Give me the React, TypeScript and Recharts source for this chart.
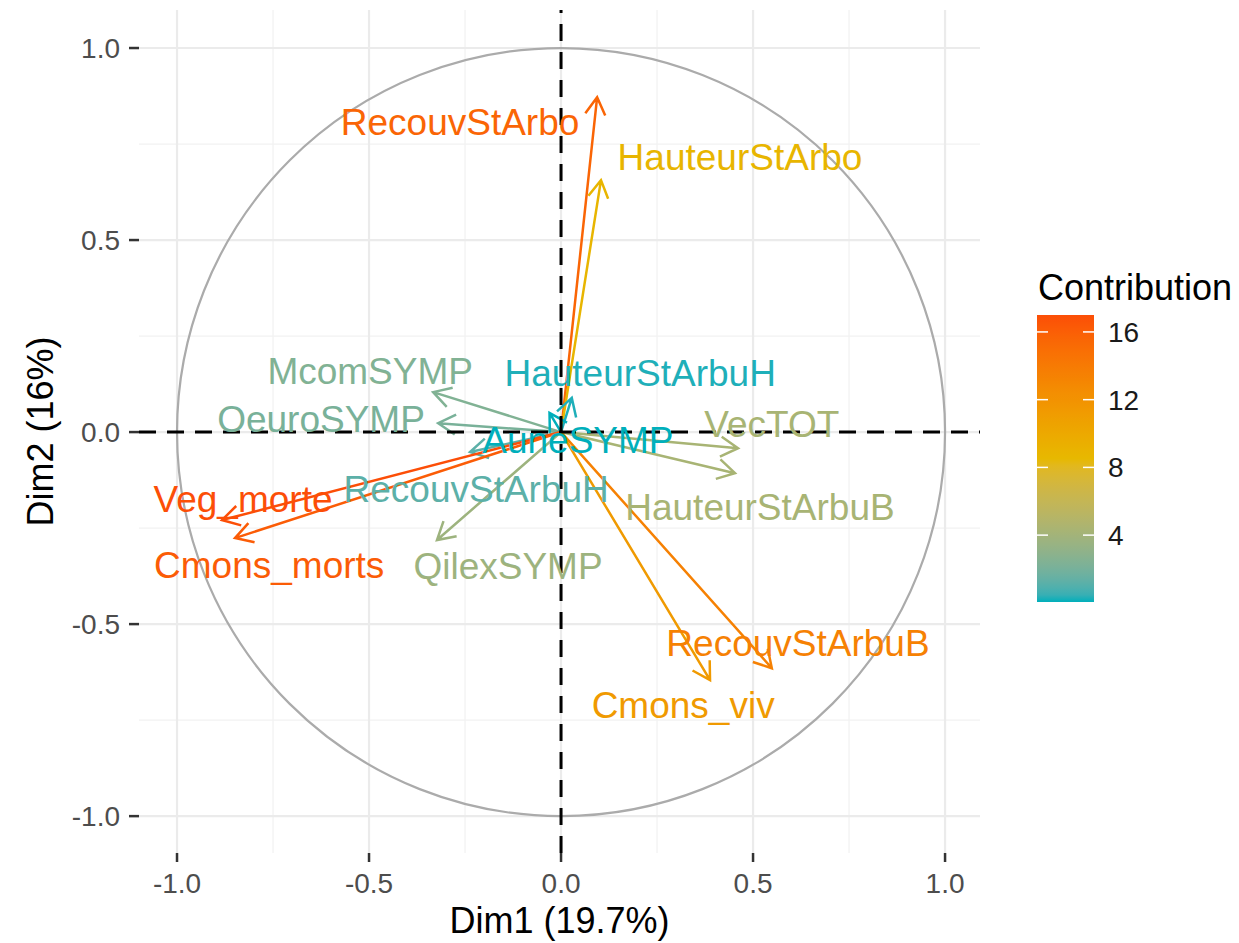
import React from 'react';
import { ScatterChart, Scatter, XAxis, YAxis, ReferenceLine, ReferenceDot, Legend } from 'recharts';

const FONT = '"Liberation Sans", Arial, Helvetica, sans-serif';

// ---- data ----
const variables = [
  'RecouvStArbo', 'HauteurStArbo', 'HauteurStArbuH', 'McomSYMP', 'OeuroSYMP', 'AuneSYMP', 'RecouvStArbuH',
  'Veg_morte', 'Cmons_morts', 'QilexSYMP', 'VecTOT', 'HauteurStArbuB', 'RecouvStArbuB', 'Cmons_viv',
];
const dim1 = [0.094, 0.104, 0.028, -0.333, -0.32, -0.03, -0.237, -0.883, -0.849, -0.323, 0.461, 0.453, 0.549, 0.388];
const dim2 = [0.872, 0.656, 0.089, 0.104, 0.023, 0.05, -0.052, -0.229, -0.276, -0.281, -0.042, -0.107, -0.615, -0.646];
const contrib = [15.6, 8.8, 0.2, 2.4, 2.1, 0.05, 1.2, 17.0, 16.2, 3.7, 4.3, 4.3, 13.5, 11.3];
// repelled label anchors (data units)
const labelX = [-0.263, 0.466, 0.206, -0.497, -0.625, 0.044, -0.221, -0.828, -0.76, -0.138, 0.549, 0.518, 0.617, 0.318];
const labelY = [0.807, 0.716, 0.154, 0.161, 0.034, -0.021, -0.148, -0.174, -0.344, -0.349, 0.021, -0.195, -0.549, -0.711];

const majorTicks = [-1, -0.5, 0, 0.5, 1];
const minorTicks = [-0.75, -0.25, 0.25, 0.75];
const legendTicks = [4, 8, 12, 16];
const gradientColours = ['#00AFBB', '#E7B800', '#FC4E07'];

const xLabel = 'Dim1 (19.7%)';
const yLabel = 'Dim2 (16%)';
const legendTitle = 'Contribution';

// ---- colour scale (CIELAB interpolation like scales::gradient_n_pal) ----
function hexToRgb(h: string): number[] {
  const s = h.replace('#', '');
  return [parseInt(s.slice(0, 2), 16), parseInt(s.slice(2, 4), 16), parseInt(s.slice(4, 6), 16)];
}
function toLinear(c: number) {
  const v = c / 255;
  return v <= 0.04045 ? v / 12.92 : Math.pow((v + 0.055) / 1.055, 2.4);
}
function fromLinear(c: number) {
  const v = c <= 0.0031308 ? 12.92 * c : 1.055 * Math.pow(c, 1 / 2.4) - 0.055;
  return Math.round(Math.max(0, Math.min(1, v)) * 255);
}
function rgbToLab(rgb: number[]): number[] {
  const R = toLinear(rgb[0]), G = toLinear(rgb[1]), B = toLinear(rgb[2]);
  const X = (0.4124 * R + 0.3576 * G + 0.1805 * B) / 0.95047;
  const Y = 0.2126 * R + 0.7152 * G + 0.0722 * B;
  const Z = (0.0193 * R + 0.1192 * G + 0.9505 * B) / 1.08883;
  const f = (t: number) => (t > 0.008856 ? Math.cbrt(t) : 7.787 * t + 16 / 116);
  const fx = f(X), fy = f(Y), fz = f(Z);
  return [116 * fy - 16, 500 * (fx - fy), 200 * (fy - fz)];
}
function labToHex(lab: number[]): string {
  const fy = (lab[0] + 16) / 116;
  const fx = fy + lab[1] / 500;
  const fz = fy - lab[2] / 200;
  const inv = (t: number) => (t * t * t > 0.008856 ? t * t * t : (t - 16 / 116) / 7.787);
  const X = inv(fx) * 0.95047, Y = inv(fy), Z = inv(fz) * 1.08883;
  const R = 3.2406 * X - 1.5372 * Y - 0.4986 * Z;
  const G = -0.9689 * X + 1.8758 * Y + 0.0415 * Z;
  const B = 0.0557 * X - 0.204 * Y + 1.057 * Z;
  const hx = (n: number) => n.toString(16).padStart(2, '0');
  return '#' + hx(fromLinear(R)) + hx(fromLinear(G)) + hx(fromLinear(B));
}
const labStops = gradientColours.map((c) => rgbToLab(hexToRgb(c)));
function colourAt(t: number): string {
  const tt = Math.max(0, Math.min(1, t));
  const n = labStops.length - 1;
  const i = Math.min(n - 1, Math.floor(tt * n));
  const local = tt * n - i;
  const a = labStops[i], b = labStops[i + 1];
  return labToHex([a[0] + (b[0] - a[0]) * local, a[1] + (b[1] - a[1]) * local, a[2] + (b[2] - a[2]) * local]);
}
const cMin = Math.min(...contrib);
const cMax = Math.max(...contrib);
const colourFor = (v: number) => colourAt((v - cMin) / (cMax - cMin));

const points = variables.map((name, i) => ({ name, x: dim1[i], y: dim2[i], contrib: contrib[i] }));

// ---- shapes ----
function Arrow(props: any) {
  const { x1, y1, x2, y2, color } = props;
  const ang = Math.atan2(y2 - y1, x2 - x1);
  const len = 20;
  const half = Math.PI / 6;
  const wx1 = x2 - len * Math.cos(ang - half), wy1 = y2 - len * Math.sin(ang - half);
  const wx2 = x2 - len * Math.cos(ang + half), wy2 = y2 - len * Math.sin(ang + half);
  return (
    <path
      d={`M${x1},${y1}L${x2},${y2}M${wx1},${wy1}L${x2},${y2}L${wx2},${wy2}`}
      fill="none"
      stroke={color}
      strokeWidth={2.5}
    />
  );
}

function CircleShape(props: any) {
  const { x1, y1, x2 } = props;
  return <circle cx={(x1 + x2) / 2} cy={y1} r={Math.abs(x2 - x1) / 2} fill="none" stroke="#ABABAB" strokeWidth={2.2} />;
}

function YTitle(props: any) {
  const vb = props.viewBox || { x: 0, y: 10, width: 139, height: 843 };
  const cx = vb.x + 40;
  const cy = vb.y + vb.height / 2;
  return (
    <text
      x={cx}
      y={cy}
      dy="0.36em"
      textAnchor="middle"
      transform={`rotate(-90, ${cx}, ${cy})`}
      fill="#000"
      fontSize={36}
      fontFamily={FONT}
    >
      {yLabel}
    </text>
  );
}

function Colorbar() {
  const barX = 37, barY = 65, barW = 57, barH = 287;
  const stops = [];
  for (let k = 0; k <= 40; k++) {
    stops.push(<stop key={k} offset={k / 40} stopColor={colourAt(k / 40)} />);
  }
  return (
    <svg width={239} height={370} style={{ display: 'block' }}>
      <defs>
        <linearGradient id="cbarGrad" x1="0" y1="1" x2="0" y2="0">
          {stops}
        </linearGradient>
      </defs>
      <text x={38} y={50} fontSize={36} fontFamily={FONT} fill="#000">
        {legendTitle}
      </text>
      <rect x={barX} y={barY} width={barW} height={barH} fill="url(#cbarGrad)" />
      {legendTicks.map((v) => {
        const y = barY + ((cMax - v) / (cMax - cMin)) * barH;
        return (
          <g key={v}>
            <line x1={barX} x2={barX + 11} y1={y} y2={y} stroke="#fff" strokeWidth={1.5} />
            <line x1={barX + barW - 11} x2={barX + barW} y1={y} y2={y} stroke="#fff" strokeWidth={1.5} />
            <text x={108} y={y} dy="0.36em" fontSize={28} fontFamily={FONT} fill="#1A1A1A">
              {v}
            </text>
          </g>
        );
      })}
    </svg>
  );
}

export default function App() {
  return (
    <div style={{ position: 'absolute', left: 0, top: 0, background: '#fff' }}>
      <ScatterChart width={1239} height={943} margin={{ top: 10, right: 259, bottom: 0, left: 0 }}>
        <XAxis
          type="number"
          dataKey="x"
          domain={[-1.099, 1.091]}
          allowDataOverflow
          ticks={majorTicks}
          interval={0}
          tickFormatter={(v: number) => v.toFixed(1)}
          axisLine={false}
          tickLine={{ stroke: '#333333', strokeWidth: 2.5 }}
          tickSize={9}
          tickMargin={11}
          height={90}
          tick={{ fill: '#4D4D4D', fontSize: 28, fontFamily: FONT }}
          label={{ value: xLabel, position: 'insideBottom', offset: 10, fill: '#000', fontSize: 36, fontFamily: FONT }}
        />
        <YAxis
          type="number"
          dataKey="y"
          domain={[-1.096, 1.099]}
          allowDataOverflow
          ticks={majorTicks}
          interval={0}
          tickFormatter={(v: number) => v.toFixed(1)}
          axisLine={false}
          tickLine={{ stroke: '#333333', strokeWidth: 2.5 }}
          tickSize={10}
          tickMargin={9}
          width={139}
          tick={{ fill: '#4D4D4D', fontSize: 28, fontFamily: FONT }}
          label={{ content: (p: any) => <YTitle {...p} /> }}
        />
        {minorTicks.map((v) => (
          <ReferenceLine key={'mx' + v} x={v} stroke="#F2F2F2" strokeWidth={1.3} />
        ))}
        {minorTicks.map((v) => (
          <ReferenceLine key={'my' + v} y={v} stroke="#F2F2F2" strokeWidth={1.3} />
        ))}
        {majorTicks.map((v) => (
          <ReferenceLine key={'gx' + v} x={v} stroke="#EBEBEB" strokeWidth={2.2} />
        ))}
        {majorTicks.map((v) => (
          <ReferenceLine key={'gy' + v} y={v} stroke="#EBEBEB" strokeWidth={2.2} />
        ))}
        <ReferenceLine
          segment={[{ x: -1, y: 0 }, { x: 1, y: 0 }]}
          shape={(p: any) => <CircleShape {...p} />}
        />
        <Scatter data={points} isAnimationActive={false} shape={() => <g />} />
        {points.map((pt) => (
          <ReferenceLine
            key={'a' + pt.name}
            segment={[{ x: 0, y: 0 }, { x: pt.x, y: pt.y }]}
            shape={(p: any) => <Arrow {...p} color={colourFor(pt.contrib)} />}
          />
        ))}
        {points.map((pt, i) => (
          <ReferenceDot
            key={'l' + pt.name}
            x={labelX[i]}
            y={labelY[i]}
            r={1}
            shape={(p: any) => (
              <text
                x={p.cx}
                y={p.cy}
                dy="0.36em"
                textAnchor="middle"
                fill={colourFor(pt.contrib)}
                fontSize={37}
                fontFamily={FONT}
              >
                {pt.name}
              </text>
            )}
          />
        ))}
        <ReferenceLine x={0} stroke="#000" strokeWidth={3} strokeDasharray="17 11" />
        <ReferenceLine y={0} stroke="#000" strokeWidth={3} strokeDasharray="17 11" />
        <Legend
          verticalAlign="middle"
          align="center"
          layout="horizontal"
          content={() => <Colorbar />}
          wrapperStyle={{ position: 'absolute', left: 1000, top: 250, width: 239, height: 370, margin: 0, padding: 0 }}
        />
      </ScatterChart>
    </div>
  );
}
